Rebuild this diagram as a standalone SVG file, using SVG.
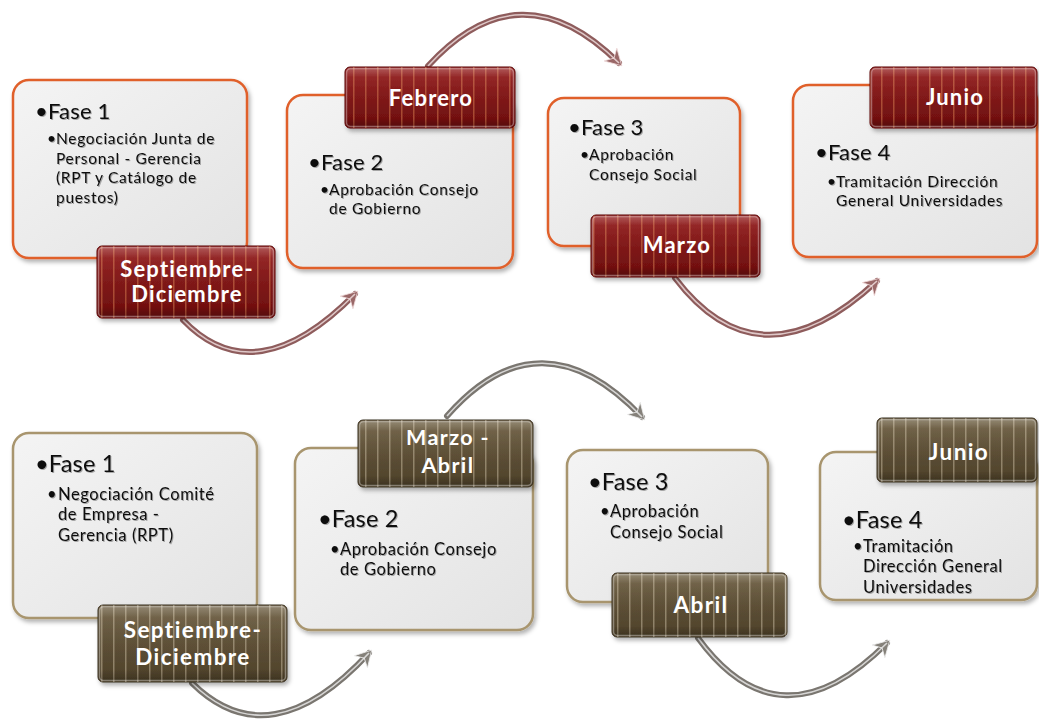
<svg xmlns="http://www.w3.org/2000/svg" width="1039" height="720" viewBox="0 0 1039 720">
<defs>
<style>
.box{stroke-width:2.5}
.boxR{fill:url(#gBox);stroke:#e0602c}
.boxB{fill:url(#gBox);stroke:#a8956e}
.lblR{fill:url(#gRed);stroke:#5a0808;stroke-width:1}
.lblB{fill:url(#gBrn);stroke:#3a3020;stroke-width:1}
.bev{fill:url(#gBev);stroke:rgba(255,255,255,0.35);stroke-width:1.5}
.t1{font-family:Lato,"Liberation Sans",sans-serif;font-size:22px;fill:#111;letter-spacing:0.2px}
.t1b{font-family:Lato,"Liberation Sans",sans-serif;font-size:23.5px;fill:#111;letter-spacing:0.2px}
.t2{font-family:Lato,"Liberation Sans",sans-serif;font-size:15.5px;fill:#111;letter-spacing:0.7px}
.t2b{font-family:Lato,"Liberation Sans",sans-serif;font-size:16.5px;fill:#111;letter-spacing:0.6px}
.tl{font-family:Lato,"Liberation Sans",sans-serif;font-size:22px;font-weight:bold;fill:#fff;text-anchor:middle;letter-spacing:1.2px}
.tlb{font-family:Lato,"Liberation Sans",sans-serif;font-size:22.5px;font-weight:bold;fill:#fff;text-anchor:middle;letter-spacing:1.4px}
.arR{fill:none;stroke:#8e5c5c;stroke-width:6;stroke-linecap:round}
.arB{fill:none;stroke:#7a7670;stroke-width:6;stroke-linecap:round}
.arHi{fill:none;stroke:#f2e2e2;stroke-width:1.6;opacity:0.8}
</style>
<linearGradient id="gBox" x1="0" y1="0" x2="1" y2="1">
<stop offset="0" stop-color="#f4f4f4"/><stop offset="1" stop-color="#e3e3e3"/>
</linearGradient>
<linearGradient id="gRed" x1="0" y1="0" x2="0" y2="1">
<stop offset="0" stop-color="#951f1f"/><stop offset="1" stop-color="#6c0e0e"/>
</linearGradient>
<linearGradient id="gBrn" x1="0" y1="0" x2="0" y2="1">
<stop offset="0" stop-color="#6e5f43"/><stop offset="1" stop-color="#4d4029"/>
</linearGradient>
<linearGradient id="gBev" x1="0" y1="0" x2="0" y2="1">
<stop offset="0" stop-color="#fff" stop-opacity="0.25"/><stop offset="0.15" stop-color="#fff" stop-opacity="0.05"/><stop offset="0.85" stop-color="#000" stop-opacity="0"/><stop offset="1" stop-color="#000" stop-opacity="0.2"/>
</linearGradient>
<pattern id="pR" width="12" height="10" patternUnits="userSpaceOnUse">
<rect x="5" width="1.5" height="10" fill="#e8905c" opacity="0.45"/>
</pattern>
<pattern id="pB" width="12" height="10" patternUnits="userSpaceOnUse">
<rect x="5" width="1.5" height="10" fill="#e8dcc0" opacity="0.4"/>
</pattern>
<filter id="sh" x="-10%" y="-10%" width="130%" height="130%">
<feDropShadow dx="2" dy="3" stdDeviation="2" flood-color="#000" flood-opacity="0.3"/>
</filter>
<filter id="ts" x="-5%" y="-20%" width="110%" height="150%">
<feDropShadow dx="1" dy="1" stdDeviation="0.6" flood-color="#000" flood-opacity="0.3"/>
</filter>
<marker id="mR" markerUnits="userSpaceOnUse" markerWidth="24" markerHeight="24" viewBox="-16 -12 24 24" refX="0" refY="0" orient="auto">
<path d="M4,0 L-12,-9 L-7,0 L-12,9 Z" fill="#9a6868" stroke="#f0dada" stroke-width="0.8"/>
</marker>
<marker id="mB" markerUnits="userSpaceOnUse" markerWidth="24" markerHeight="24" viewBox="-16 -12 24 24" refX="0" refY="0" orient="auto">
<path d="M4,0 L-12,-9 L-7,0 L-12,9 Z" fill="#85817a" stroke="#eeeeee" stroke-width="0.8"/>
</marker>
</defs>
<rect width="1039" height="720" fill="#fff"/>

<g id="connectors">
<path class="arR" d="M183,320 Q255,395 355,294" marker-end="url(#mR)"/>
<path class="arHi" d="M183,320 Q255,395 355,294"/>
<path class="arR" d="M428,66 Q520,-35 619,63" marker-end="url(#mR)"/>
<path class="arHi" d="M428,66 Q520,-35 619,63"/>
<path class="arR" d="M675,278 Q760,390 877,281" marker-end="url(#mR)"/>
<path class="arHi" d="M675,278 Q760,390 877,281"/>
<path class="arB" d="M192,683 Q270,760 369,653" marker-end="url(#mB)"/>
<path class="arHi" d="M192,683 Q270,760 369,653" style="stroke:#eee"/>
<path class="arB" d="M447,416 Q540,310 642,417" marker-end="url(#mB)"/>
<path class="arHi" d="M447,416 Q540,310 642,417" style="stroke:#eee"/>
<path class="arB" d="M698,638 Q780,750 887,643" marker-end="url(#mB)"/>
<path class="arHi" d="M698,638 Q780,750 887,643" style="stroke:#eee"/>
</g>

<!-- Top row -->
<g id="top-fase1">
<rect class="box boxR" x="13" y="80" width="234" height="178" rx="16" filter="url(#sh)"/>
<g filter="url(#ts)">
<text class="t1" x="35" y="119">•Fase 1</text>
<text class="t2"><tspan x="47" y="144">•</tspan><tspan x="56" y="144">Negociación Junta de</tspan><tspan x="56" y="163.5">Personal - Gerencia</tspan><tspan x="56" y="183">(RPT y Catálogo de</tspan><tspan x="56" y="202.5">puestos)</tspan></text>
</g>
<g filter="url(#sh)">
<rect class="lblR" x="97" y="246" width="178" height="72" rx="5"/>
<rect x="97" y="246" width="178" height="72" rx="5" fill="url(#pR)"/>
<rect class="bev" x="98.5" y="247.5" width="175" height="69" rx="4"/>
</g>
<text class="tl" x="187" y="277">Septiembre-</text>
<text class="tl" x="187" y="302">Diciembre</text>
</g>

<g id="top-fase2">
<rect class="box boxR" x="287" y="95" width="226" height="173" rx="16" filter="url(#sh)"/>
<g filter="url(#ts)">
<text class="t1" x="308" y="170">•Fase 2</text>
<text class="t2"><tspan x="320" y="195">•</tspan><tspan x="329" y="195">Aprobación Consejo</tspan><tspan x="329" y="214">de Gobierno</tspan></text>
</g>
<g filter="url(#sh)">
<rect class="lblR" x="345" y="67" width="170" height="61" rx="5"/>
<rect x="345" y="67" width="170" height="61" rx="5" fill="url(#pR)"/>
<rect class="bev" x="346.5" y="68.5" width="167" height="58" rx="4"/>
</g>
<text class="tl" x="431" y="106">Febrero</text>
</g>

<g id="top-fase3">
<rect class="box boxR" x="548" y="98" width="192" height="148" rx="16" filter="url(#sh)"/>
<g filter="url(#ts)">
<text class="t1" x="568" y="135">•Fase 3</text>
<text class="t2"><tspan x="580" y="160">•</tspan><tspan x="589" y="160">Aprobación</tspan><tspan x="589" y="180">Consejo Social</tspan></text>
</g>
<g filter="url(#sh)">
<rect class="lblR" x="591" y="215" width="169" height="62" rx="5"/>
<rect x="591" y="215" width="169" height="62" rx="5" fill="url(#pR)"/>
<rect class="bev" x="592.5" y="216.5" width="166" height="59" rx="4"/>
</g>
<text class="tl" x="677" y="253">Marzo</text>
</g>

<g id="top-fase4">
<rect class="box boxR" x="793" y="85" width="244" height="172" rx="16" filter="url(#sh)"/>
<g filter="url(#ts)">
<text class="t1" x="815" y="160">•Fase 4</text>
<text class="t2"><tspan x="827" y="187">•</tspan><tspan x="836" y="187">Tramitación Dirección</tspan><tspan x="836" y="206">General Universidades</tspan></text>
</g>
<g filter="url(#sh)">
<rect class="lblR" x="870" y="67" width="167" height="61" rx="5"/>
<rect x="870" y="67" width="167" height="61" rx="5" fill="url(#pR)"/>
<rect class="bev" x="871.5" y="68.5" width="164" height="58" rx="4"/>
</g>
<text class="tl" x="955" y="105">Junio</text>
</g>

<!-- Bottom row -->
<g id="bottom-fase1">
<rect class="box boxB" x="13" y="433" width="244" height="185" rx="16" filter="url(#sh)"/>
<g filter="url(#ts)">
<text class="t1b" x="35" y="472">•Fase 1</text>
<text class="t2b"><tspan x="47" y="500">•</tspan><tspan x="58" y="500">Negociación Comité</tspan><tspan x="58" y="520">de Empresa -</tspan><tspan x="58" y="541">Gerencia (RPT)</tspan></text>
</g>
<g filter="url(#sh)">
<rect class="lblB" x="98" y="605" width="189" height="77" rx="5"/>
<rect x="98" y="605" width="189" height="77" rx="5" fill="url(#pB)"/>
<rect class="bev" x="99.5" y="606.5" width="186" height="74" rx="4"/>
</g>
<text class="tlb" x="193" y="638">Septiembre-</text>
<text class="tlb" x="193" y="665">Diciembre</text>
</g>

<g id="bottom-fase2">
<rect class="box boxB" x="295" y="448" width="238" height="182" rx="16" filter="url(#sh)"/>
<g filter="url(#ts)">
<text class="t1b" x="318" y="527">•Fase 2</text>
<text class="t2b"><tspan x="330" y="555">•</tspan><tspan x="340" y="555">Aprobación Consejo</tspan><tspan x="340" y="575">de Gobierno</tspan></text>
</g>
<g filter="url(#sh)">
<rect class="lblB" x="358" y="420" width="175" height="67" rx="5"/>
<rect x="358" y="420" width="175" height="67" rx="5" fill="url(#pB)"/>
<rect class="bev" x="359.5" y="421.5" width="172" height="64" rx="4"/>
</g>
<text class="tlb" x="448" y="445" style="font-size:21.5px">Marzo -</text>
<text class="tlb" x="448" y="473" style="font-size:21.5px">Abril</text>
</g>

<g id="bottom-fase3">
<rect class="box boxB" x="567" y="450" width="201" height="152" rx="16" filter="url(#sh)"/>
<g filter="url(#ts)">
<text class="t1b" x="588" y="490">•Fase 3</text>
<text class="t2b"><tspan x="600" y="517">•</tspan><tspan x="610" y="517">Aprobación</tspan><tspan x="610" y="538">Consejo Social</tspan></text>
</g>
<g filter="url(#sh)">
<rect class="lblB" x="612" y="573" width="175" height="64" rx="5"/>
<rect x="612" y="573" width="175" height="64" rx="5" fill="url(#pB)"/>
<rect class="bev" x="613.5" y="574.5" width="172" height="61" rx="4"/>
</g>
<text class="tlb" x="701" y="613">Abril</text>
</g>

<g id="bottom-fase4">
<rect class="box boxB" x="820" y="452" width="217" height="148" rx="16" filter="url(#sh)"/>
<g filter="url(#ts)">
<text class="t1b" x="842" y="528">•Fase 4</text>
<text class="t2b"><tspan x="853" y="552">•</tspan><tspan x="863" y="552">Tramitación</tspan><tspan x="863" y="572">Dirección General</tspan><tspan x="863" y="593">Universidades</tspan></text>
</g>
<g filter="url(#sh)">
<rect class="lblB" x="877" y="418" width="160" height="64" rx="5"/>
<rect x="877" y="418" width="160" height="64" rx="5" fill="url(#pB)"/>
<rect class="bev" x="878.5" y="419.5" width="157" height="61" rx="4"/>
</g>
<text class="tlb" x="959" y="460">Junio</text>
</g>
</svg>
